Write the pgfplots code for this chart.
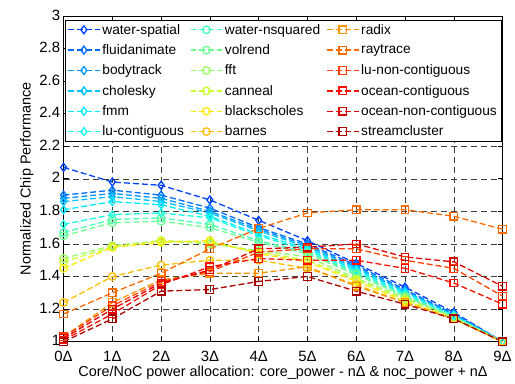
\documentclass[border=0pt]{standalone}
\usepackage{fontspec}
\setmainfont{Liberation Sans}
\usepackage{pgfplots}
\usepackage{pgfplotstable}
\pgfplotsset{compat=1.18}
\pgfplotstableread{
x ws fl bt ch fm lc wn vr ff cn bs ba rx rt ln oc on sc
0 2.07 1.90 1.88 1.86 1.81 1.72 1.67 1.65 1.51 1.49 1.45 1.24 1.03 1.17 1.03 1.01 1.02 1.00
1 1.98 1.93 1.91 1.89 1.86 1.78 1.75 1.73 1.59 1.58 1.58 1.40 1.24 1.30 1.22 1.17 1.20 1.14
2 1.96 1.90 1.88 1.86 1.84 1.79 1.76 1.74 1.62 1.62 1.61 1.47 1.38 1.42 1.37 1.35 1.36 1.31
3 1.87 1.82 1.80 1.79 1.77 1.76 1.72 1.70 1.60 1.61 1.62 1.50 1.42 1.57 1.43 1.46 1.44 1.32
4 1.745 1.70 1.69 1.68 1.66 1.65 1.62 1.61 1.56 1.55 1.54 1.50 1.42 1.695 1.55 1.51 1.57 1.37
5 1.62 1.60 1.59 1.58 1.57 1.56 1.55 1.54 1.52 1.50 1.49 1.45 1.46 1.79 1.57 1.50 1.58 1.40
6 1.48 1.47 1.46 1.45 1.44 1.43 1.42 1.41 1.39 1.38 1.37 1.35 1.34 1.81 1.57 1.50 1.60 1.31
7 1.335 1.32 1.31 1.31 1.30 1.29 1.28 1.28 1.27 1.26 1.25 1.24 1.24 1.81 1.50 1.45 1.52 1.23
8 1.18 1.17 1.17 1.16 1.16 1.16 1.15 1.15 1.15 1.14 1.14 1.14 1.14 1.77 1.45 1.36 1.49 1.14
9 1.00 1.00 1.00 1.00 1.00 1.00 1.00 1.00 1.00 1.00 1.00 1.00 1.00 1.69 1.28 1.23 1.34 1.00
}\data
\definecolor{c1}{rgb}{0,0.25,1}
\definecolor{c2}{rgb}{0,0.42,1}
\definecolor{c3}{rgb}{0,0.58,1}
\definecolor{c4}{rgb}{0,0.75,1}
\definecolor{c5}{rgb}{0,0.92,1}
\definecolor{c6}{rgb}{0.1,1,0.9}
\definecolor{c7}{rgb}{0.27,1,0.73}
\definecolor{c8}{rgb}{0.43,1,0.57}
\definecolor{c9}{rgb}{0.6,1,0.4}
\definecolor{c10}{rgb}{0.8,1,0.2}
\definecolor{c11}{rgb}{1,0.92,0}
\definecolor{c12}{rgb}{1,0.75,0}
\definecolor{c13}{rgb}{1,0.58,0}
\definecolor{c14}{rgb}{1,0.42,0}
\definecolor{c15}{rgb}{1,0.25,0}
\definecolor{c16}{rgb}{1,0.06,0}
\definecolor{c17}{rgb}{0.88,0,0}
\definecolor{c18}{rgb}{0.68,0,0}
\begin{document}
\begin{tikzpicture}
\begin{axis}[
  scale only axis, width=442pt, height=328pt,
  xmin=0, xmax=9, ymin=1, ymax=3,
  xtick={0,...,9},
  xticklabels={0Δ,1Δ,2Δ,3Δ,4Δ,5Δ,6Δ,7Δ,8Δ,9Δ},
  ytick={1,1.2,...,3.01},
  /pgf/number format/assume math mode=true,
  tick label style={font=\fontsize{15}{17}\selectfont},
  xticklabel style={yshift=-6pt},
  yticklabel style={yshift=1pt},
  label style={font=\fontsize{14.5}{16}\selectfont},
  xlabel={Core/NoC power allocation: core\_power - nΔ \& noc\_power + nΔ},
  ylabel={Normalized Chip Performance},
  xlabel style={yshift=2pt},
  ylabel style={yshift=-1pt},
  grid=major,
  major grid style={black!75, line width=0.5pt, dash pattern=on 6pt off 4pt},
  tick align=inside, major tick length=5pt,
  axis line style={black, line width=0.7pt},
  every tick/.style={black, line width=0.6pt},
  every axis plot/.append style={line width=1.3pt, dash pattern=on 6pt off 3pt},
  legend columns=6, transpose legend,
  legend cell align=left,
  legend style={at={(0.5,0.988)}, anchor=north, draw=black, line width=0.6pt,
    font=\fontsize{13.8}{16}\selectfont, row sep=5pt, inner sep=2pt,
    /tikz/every even column/.append style={column sep=4pt}},
  legend image code/.code={\draw[mark repeat=2,mark phase=2] plot coordinates {(0pt,0pt) (16pt,0pt) (32pt,0pt)};},
]
\addplot[c1, mark=diamond, mark size=4pt, mark options={solid}] table[y=ws]{\data};
\addlegendentry{water-spatial}
\addplot[c2, mark=diamond, mark size=4pt, mark options={solid}] table[y=fl]{\data};
\addlegendentry{fluidanimate}
\addplot[c3, mark=diamond, mark size=4pt, mark options={solid}] table[y=bt]{\data};
\addlegendentry{bodytrack}
\addplot[c4, mark=diamond, mark size=4pt, mark options={solid}] table[y=ch]{\data};
\addlegendentry{cholesky}
\addplot[c5, mark=diamond, mark size=4pt, mark options={solid}] table[y=fm]{\data};
\addlegendentry{fmm}
\addplot[c6, mark=diamond, mark size=4pt, mark options={solid}] table[y=lc]{\data};
\addlegendentry{lu-contiguous}
\addplot[c7, mark=o, mark size=3.8pt, mark options={solid}] table[y=wn]{\data};
\addlegendentry{water-nsquared}
\addplot[c8, mark=o, mark size=3.8pt, mark options={solid}] table[y=vr]{\data};
\addlegendentry{volrend}
\addplot[c9, mark=o, mark size=3.8pt, mark options={solid}] table[y=ff]{\data};
\addlegendentry{fft}
\addplot[c10, mark=o, mark size=3.8pt, mark options={solid}] table[y=cn]{\data};
\addlegendentry{canneal}
\addplot[c11, mark=o, mark size=3.8pt, mark options={solid}] table[y=bs]{\data};
\addlegendentry{blackscholes}
\addplot[c12, mark=o, mark size=3.8pt, mark options={solid}] table[y=ba]{\data};
\addlegendentry{barnes}
\addplot[c13, mark=square, mark size=3.8pt, mark options={solid}] table[y=rx]{\data};
\addlegendentry{radix}
\addplot[c14, mark=square, mark size=3.8pt, mark options={solid}] table[y=rt]{\data};
\addlegendentry{raytrace}
\addplot[c15, mark=square, mark size=3.8pt, mark options={solid}] table[y=ln]{\data};
\addlegendentry{lu-non-contiguous}
\addplot[c16, mark=square, mark size=3.8pt, mark options={solid}] table[y=oc]{\data};
\addlegendentry{ocean-contiguous}
\addplot[c17, mark=square, mark size=3.8pt, mark options={solid}] table[y=on]{\data};
\addlegendentry{ocean-non-contiguous}
\addplot[c18, mark=square, mark size=3.8pt, mark options={solid}] table[y=sc]{\data};
\addlegendentry{streamcluster}
\end{axis}
\path ([shift={(-64pt,-42pt)}]current axis.south west) rectangle ([shift={(9pt,16pt)}]current axis.north east);
\end{tikzpicture}
\end{document}
